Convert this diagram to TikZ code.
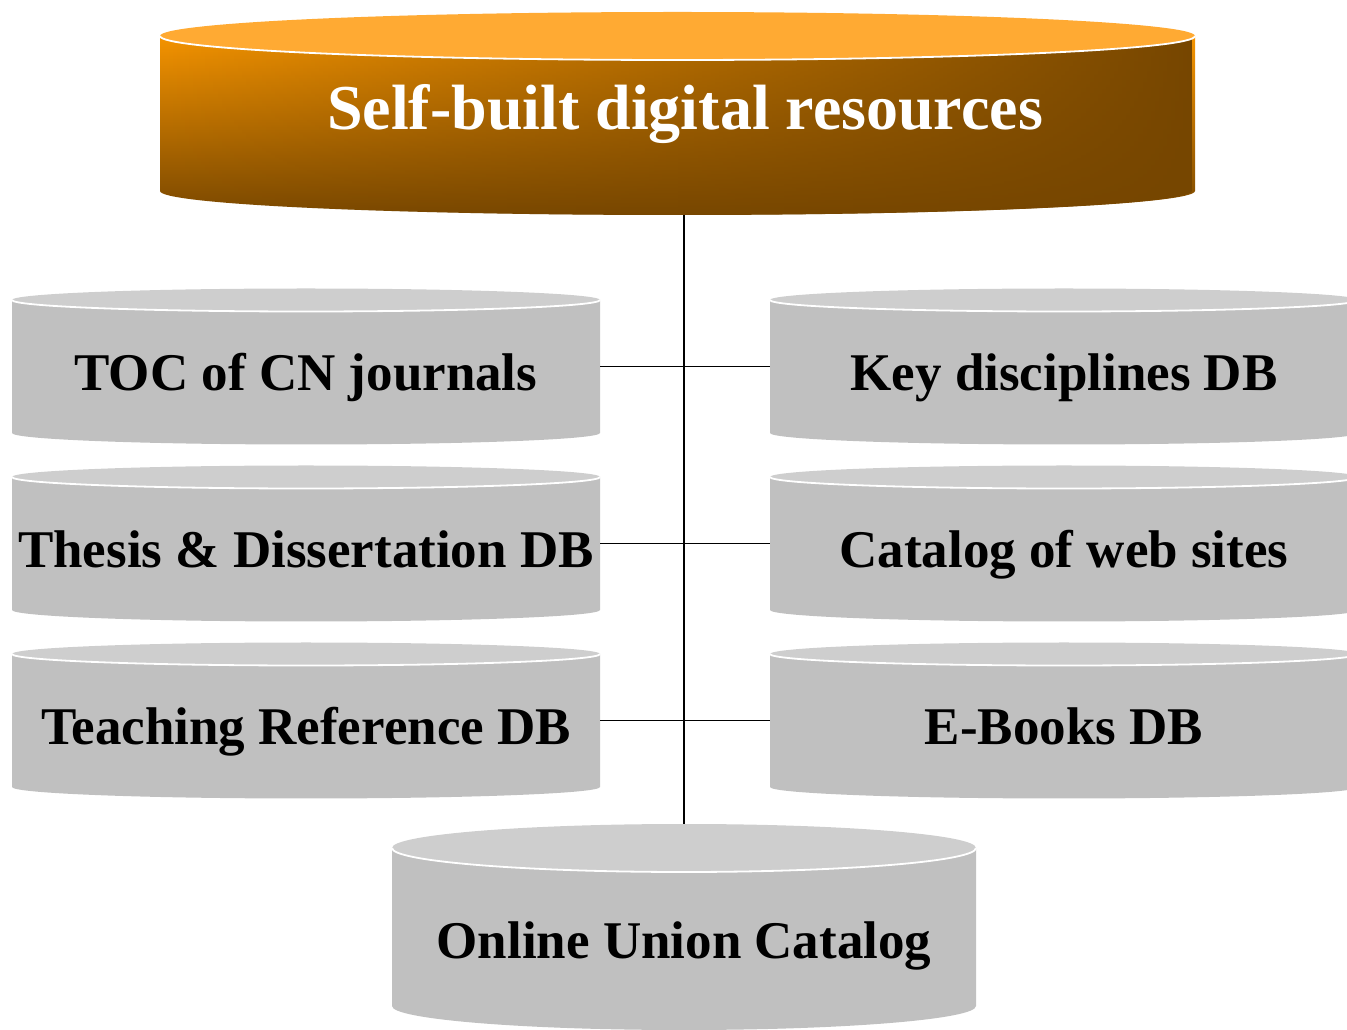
\documentclass[tikz,border=0pt]{standalone}
\usepackage{fontspec}
\setmainfont{Liberation Serif}
\usetikzlibrary{fadings}
\definecolor{orTop}{RGB}{255,170,51}
\definecolor{orA}{RGB}{245,148,0}
\definecolor{orM}{RGB}{214,128,0}
\definecolor{brA}{RGB}{122,72,0}
\definecolor{brR}{RGB}{118,70,0}
\definecolor{gBody}{RGB}{192,192,192}
\definecolor{gTop}{RGB}{206,206,206}
\tikzfading[name=fadeR, left color=transparent!100, middle color=transparent!75, right color=transparent!0]
\newcommand\graycyl[5]{%
  \fill[gBody] ({#1-#2},#3) -- ({#1-#2},#4) arc[start angle=180, end angle=360, x radius=#2, y radius=#5] -- ({#1+#2},#3) -- cycle;
  \fill[gTop] (#1,#3) ellipse[x radius=#2, y radius=#5];
  \draw[white, line width=1.8] ({#1-#2},#3) arc[start angle=180, end angle=360, x radius=#2, y radius=#5];
}
\tikzset{
  body/.style={draw=none, inner sep=0, outer sep=0, rectangle},
  lbl/.style={anchor=base, font=\bfseries\fontsize{53}{60}\selectfont, text=black, inner sep=0},
  toplbl/.style={anchor=base, font=\bfseries\fontsize{64}{70}\selectfont, text=white, inner sep=0},
  conn/.style={draw=black, line width=1.6}
}
\begin{document}
\begin{tikzpicture}[x=1pt, y=1pt]
\useasboundingbox (0,0) rectangle (1347,1029);
% top cylinder
\shade[top color=orA, middle color=orM, bottom color=brA] (160,993) -- (160,838) arc[start angle=180, end angle=360, x radius=517.5, y radius=24] -- (1195,993) -- cycle;
\fill[brR, path fading=fadeR] (160,993) -- (160,838) arc[start angle=180, end angle=360, x radius=517.5, y radius=24] -- (1195,993) -- cycle;
\fill[orTop] (677.5,993) ellipse[x radius=517.5, y radius=24];
\draw[white, line width=1.8] (160,993) arc[start angle=180, end angle=360, x radius=517.5, y radius=24];
% gray cylinders
\graycyl{306}{294}{729}{596}{11.5}
\graycyl{306}{294}{552}{419}{11.5}
\graycyl{306}{294}{375}{242}{11.5}
\graycyl{1064}{294}{729}{596}{11.5}
\graycyl{1064}{294}{552}{419}{11.5}
\graycyl{1064}{294}{375}{242}{11.5}
\graycyl{684}{292}{181}{23}{24}
% body nodes for connections
\node[body, minimum width=1035, minimum height=179] (topB) at (677.5,903.5) {};
\node[body, minimum width=588, minimum height=133] (tocB) at (306,662.5) {};
\node[body, minimum width=588, minimum height=133] (thesisB) at (306,485.5) {};
\node[body, minimum width=588, minimum height=133] (teachB) at (306,308.5) {};
\node[body, minimum width=588, minimum height=133] (keyB) at (1064,662.5) {};
\node[body, minimum width=588, minimum height=133] (catB) at (1064,485.5) {};
\node[body, minimum width=588, minimum height=133] (ebookB) at (1064,308.5) {};
\node[body, minimum width=584, minimum height=182] (unionB) at (684,114) {};
% connectors
\draw[conn] (topB.south -| 684,0) -- (unionB.north -| 684,0);
\draw[conn] (tocB.east) -- (keyB.west);
\draw[conn] (thesisB.east) -- (catB.west);
\draw[conn] (teachB.east) -- (ebookB.west);
% labels
\node[toplbl] (self) at (685,899) {Self-built digital resources};
\node[lbl] (toc) at (306,638) {TOC of CN journals};
\node[lbl] (thesis) at (306,461) {Thesis \& Dissertation DB};
\node[lbl] (teach) at (306,284) {Teaching Reference DB};
\node[lbl] (key) at (1064,638) {Key disciplines DB};
\node[lbl] (cat) at (1064,461) {Catalog of web sites};
\node[lbl] (ebook) at (1064,284) {E-Books DB};
\node[lbl] (union) at (684,71) {Online Union Catalog};
\end{tikzpicture}
\end{document}
